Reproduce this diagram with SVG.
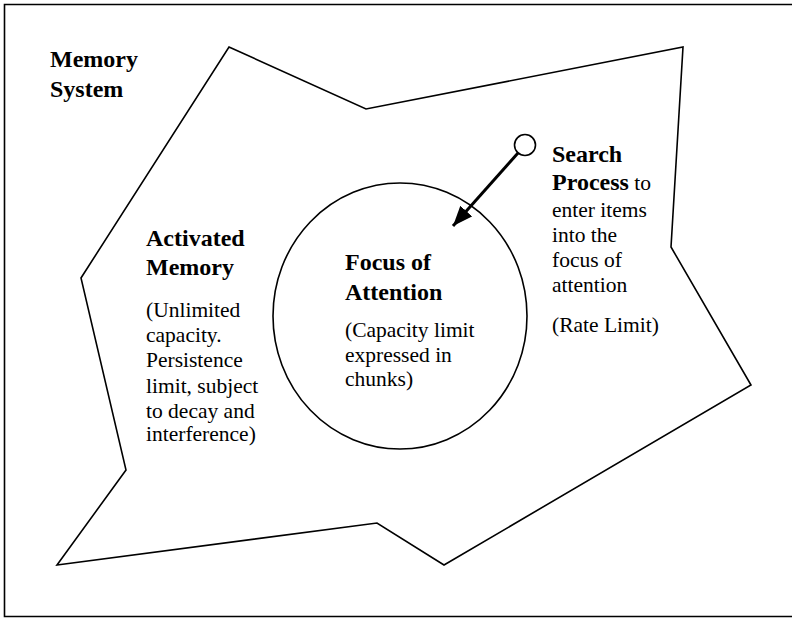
<svg xmlns="http://www.w3.org/2000/svg" width="792" height="618" viewBox="0 0 792 618">
<defs>
<style>
.ln{fill:none;stroke:#000;stroke-width:1.6;stroke-linejoin:miter}
text{font-family:'Liberation Serif','Times New Roman','DejaVu Serif',serif;fill:#000}
.b{font-weight:bold;font-size:24px}
.r{font-weight:normal;font-size:21.5px}
</style>
<marker id="ah" markerUnits="userSpaceOnUse" markerWidth="22" markerHeight="18" refX="20" refY="8" orient="auto">
<path d="M0,0 L20,8 L0,16 Z" fill="#000"/>
</marker>
</defs>
<rect width="792" height="618" fill="#fff"/>
<path class="ln" d="M800,4.5 H4.5 V616.5 H800" stroke-width="1.8"/>
<g id="memory-system">
<polygon class="ln" points="229,47 366,109 683,47 671,247 751,385 444,565 377,523 57,565 126,470 81,278"/>
<text class="b" font-family="Liberation Serif, serif"><tspan x="50" y="67">Memory</tspan><tspan x="50" y="97">System</tspan></text>
</g>
<g id="activated-memory">
<text class="b" font-family="Liberation Serif, serif"><tspan x="146" y="246">Activated</tspan><tspan x="146" y="275">Memory</tspan></text>
<text class="r" font-family="Liberation Serif, serif"><tspan x="146" y="317">(Unlimited</tspan><tspan x="146" y="342">capacity.</tspan><tspan x="146" y="367">Persistence</tspan><tspan x="146" y="393">limit, subject</tspan><tspan x="146" y="418">to decay and</tspan><tspan x="146" y="441">interference)</tspan></text>
</g>
<g id="focus-of-attention">
<ellipse class="ln" cx="400" cy="316" rx="127" ry="133"/>
<text class="b" font-family="Liberation Serif, serif"><tspan x="345" y="270">Focus of</tspan><tspan x="345" y="300">Attention</tspan></text>
<text class="r" font-family="Liberation Serif, serif"><tspan x="345" y="337">(Capacity limit</tspan><tspan x="345" y="362">expressed in</tspan><tspan x="345" y="386">chunks)</tspan></text>
</g>
<g id="search-process">
<circle cx="525" cy="145" r="10.5" fill="#fff" stroke="#000" stroke-width="1.6"/>
<text class="b" font-family="Liberation Serif, serif"><tspan x="552" y="162">Search</tspan><tspan x="552" y="190">Process<tspan class="r"> to</tspan></tspan></text>
<text class="r" font-family="Liberation Serif, serif"><tspan x="552" y="217">enter items</tspan><tspan x="552" y="242">into the</tspan><tspan x="552" y="267">focus of</tspan><tspan x="552" y="292">attention</tspan><tspan x="552" y="332">(Rate Limit)</tspan></text>
</g>
<g id="connectors">
<line x1="518" y1="153" x2="453" y2="226" stroke="#000" stroke-width="3" marker-end="url(#ah)"/>
</g>
</svg>
